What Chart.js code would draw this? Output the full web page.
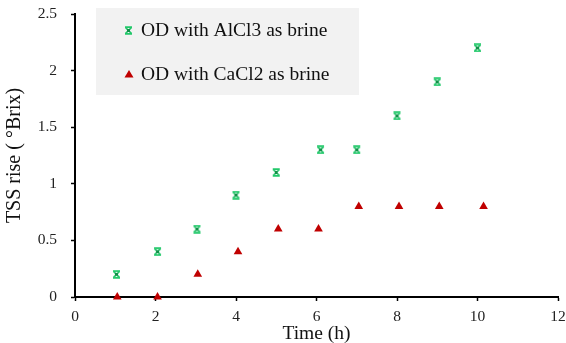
<!DOCTYPE html>
<html>
<head>
<meta charset="utf-8">
<script src="https://cdn.jsdelivr.net/npm/chart.js@4"></script>
<style>
  html, body { margin: 0; padding: 0; background: #fff; }
  #wrap { width: 566px; height: 343px; position: relative; }
</style>
</head>
<body>
<div id="wrap"><canvas id="chart" width="566" height="343"></canvas></div>
<script>
// data
const alX = [1.03, 2.05, 3.03, 4.0, 5.0, 6.1, 7.0, 8.0, 9.0, 10.0];
const alY = [0.2, 0.4, 0.6, 0.9, 1.1, 1.3, 1.3, 1.6, 1.9, 2.2];
const caX = [1.05, 2.05, 3.05, 4.05, 5.05, 6.05, 7.05, 8.05, 9.05, 10.15];
const caY = [0, 0, 0.2, 0.4, 0.6, 0.6, 0.8, 0.8, 0.8, 0.8];
const labels = ['OD with AlCl3 as brine', 'OD with CaCl2 as brine'];

const FONT = "'Liberation Serif', 'Times New Roman', serif";
const GREEN = '#22c86a';
const RED = '#c00000';

// marker: x with a bar on top and bottom
function starMarker() {
  const c = document.createElement('canvas');
  c.width = 9; c.height = 9;
  const g = c.getContext('2d');
  g.strokeStyle = GREEN;
  g.lineWidth = 1.7;
  g.beginPath();
  g.moveTo(1.5, 1.5); g.lineTo(7.5, 7.5);
  g.moveTo(7.5, 1.5); g.lineTo(1.5, 7.5);
  g.moveTo(1, 1.2); g.lineTo(8, 1.2);
  g.moveTo(1, 7.8); g.lineTo(8, 7.8);
  g.stroke();
  g.fillStyle = '#129048';
  g.fillRect(3, 3, 3, 3);
  return c;
}
const star = starMarker();

const legendBox = {
  id: 'legendBox',
  afterDraw(chart) {
    const ctx = chart.ctx;
    ctx.save();
    ctx.fillStyle = '#f2f2f2';
    ctx.fillRect(96, 8, 263, 87);
    ctx.font = '19.5px ' + FONT;
    ctx.fillStyle = '#111';
    ctx.textBaseline = 'middle';
    ctx.drawImage(star, 124, 26);
    ctx.fillText(labels[0], 141, 31);
    ctx.fillStyle = RED;
    ctx.beginPath();
    ctx.moveTo(129, 70); ctx.lineTo(133.5, 77.5); ctx.lineTo(124.5, 77.5); ctx.closePath();
    ctx.fill();
    ctx.fillStyle = '#111';
    ctx.fillText(labels[1], 141, 75);
    ctx.restore();
  }
};

new Chart(document.getElementById('chart'), {
  type: 'scatter',
  data: {
    datasets: [
      { label: labels[0], data: alX.map((x, i) => ({ x, y: alY[i] })), pointStyle: star, pointRadius: 4, backgroundColor: GREEN, borderColor: GREEN, clip: false },
      { label: labels[1], data: caX.map((x, i) => ({ x, y: caY[i] })), pointStyle: 'triangle', pointRadius: 5, backgroundColor: RED, borderColor: RED, borderWidth: 0, clip: false }
    ]
  },
  options: {
    responsive: false,
    animation: false,
    layout: { padding: { top: 14, right: 8, left: 0, bottom: 0 } },
    plugins: { legend: { display: false }, tooltip: { enabled: false } },
    scales: {
      x: {
        min: 0, max: 12,
        ticks: { stepSize: 2, color: '#222', font: { family: FONT, size: 15.5 }, padding: 7 },
        grid: { drawOnChartArea: false, color: '#000', tickLength: 4, tickWidth: 1.5 },
        border: { color: '#000', width: 2 },
        title: { display: true, text: 'Time (h)', color: '#111', font: { family: FONT, size: 19.5 }, padding: { top: 0, bottom: -3 } },
        afterFit(s) { s.height = 46; s.paddingLeft = 0; s.paddingRight = 0; }
      },
      y: {
        min: 0, max: 2.5,
        ticks: { stepSize: 0.5, color: '#222', font: { family: FONT, size: 15.5 }, padding: 14,
                 callback: v => String(Number(v.toFixed(2))) },
        grid: { drawOnChartArea: false, color: '#000', tickLength: 4, tickWidth: 1.5 },
        border: { color: '#000', width: 2 },
        title: { display: true, text: 'TSS rise ( °Brix)', color: '#111', font: { family: FONT, size: 20 }, padding: { top: 3, bottom: 0 } },
        afterFit(s) { s.width = 75; s.paddingTop = 0; s.paddingBottom = 0; }
      }
    }
  },
  plugins: [legendBox]
});
</script>
</body>
</html>
